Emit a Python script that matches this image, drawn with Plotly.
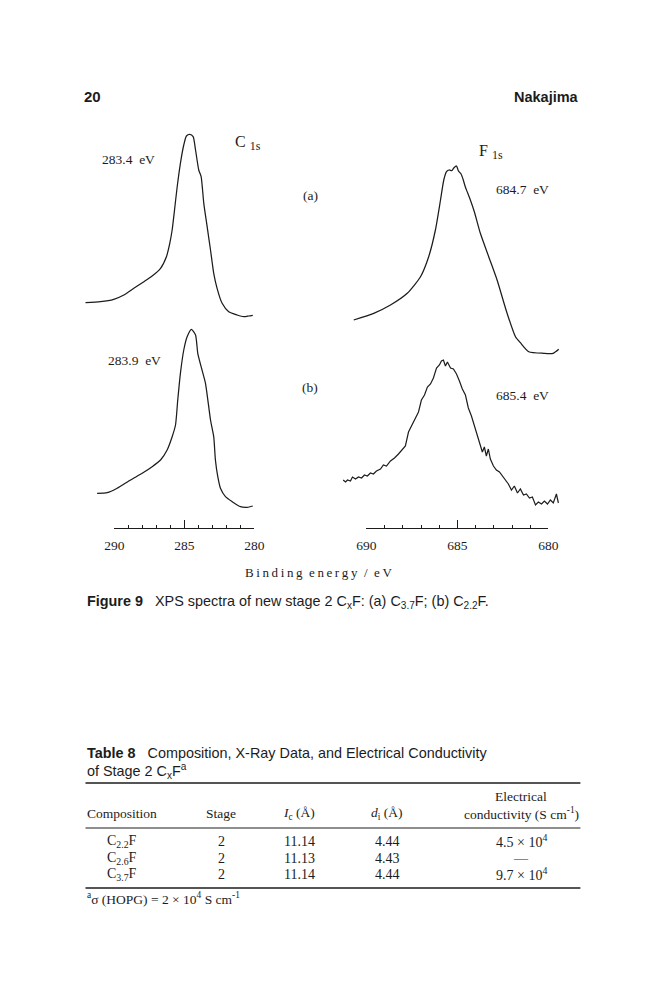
import plotly.graph_objects as go

W, H = 663, 1000
SERIF = "Liberation Serif"
SANS = "Liberation Sans"
INK = "#1c1c1c"

# C 1s spectra: binding energy (eV) and intensity (arb. units)
c1s_a_ev = [292.07, 291.0, 290.05, 289.33, 288.62, 287.9, 287.31, 286.71, 286.29, 286.05,
            285.88, 285.71, 285.52, 285.29, 285.05, 284.86, 284.62, 284.38, 284.21, 283.98,
            283.81, 283.62, 283.38, 283.14, 282.91, 282.67, 282.31, 281.84, 281.24, 280.76,
            280.41, 280.12]
c1s_a_int = [17.3, 18.3, 20.7, 25, 31.7, 38.3, 44, 51.7, 63.3, 76.7,
             90, 110, 133.3, 156.7, 175, 184, 185.7, 183.3, 170, 150,
             143.3, 116.7, 93.3, 70, 46.7, 31.7, 16.7, 8.3, 5, 3.3,
             4, 4.7]

c1s_b_ev = [291.24, 290.52, 289.81, 288.86, 288.02, 287.31, 286.71, 286.24, 285.88, 285.64,
            285.48, 285.29, 285.05, 284.81, 284.5, 284.21, 284.05, 283.81, 283.5, 283.14,
            282.91, 282.79, 282.62, 282.43, 282.07, 281.59, 281.0, 280.52, 280.12]
c1s_b_int = [16.7, 17.3, 21.7, 30, 36.7, 43.3, 50, 60, 73.3, 85,
             110, 136.7, 160, 173.3, 180.7, 175, 156.7, 143.3, 126.7, 90,
             73.3, 50, 33.3, 21.7, 13.3, 8.3, 3.3, 2.7, 4]

# F 1s spectra
f1s_a_ev = [690.70, 689.60, 688.68, 687.76, 687.03, 686.58, 686.21, 685.93, 685.75, 685.60,
            685.46, 685.31, 685.20, 685.05, 684.95, 684.80, 684.69, 684.56, 684.43, 684.29,
            684.07, 683.74, 683.28, 682.82, 682.27, 681.81, 681.54, 681.08, 680.26, 679.74,
            679.43]
f1s_a_int = [40, 46.7, 55, 66.7, 83.3, 103.3, 130, 160, 180, 188.3,
             190, 189.3, 192, 194, 189.3, 186, 180.7, 172.7, 166.7, 160,
             148.3, 126.7, 103.3, 80, 46.7, 23.3, 17.3, 8.3, 6.7, 6.7,
             10.7]

f1s_b_ev = [691.28, 691.15, 691.04, 690.88, 690.77, 690.60, 690.44, 690.27, 690.11, 689.95,
            689.78, 689.62, 689.45, 689.23, 689.07, 688.90, 688.68, 688.46, 688.24, 688.02,
            687.86, 687.69, 687.53, 687.31, 687.14, 686.98, 686.81, 686.65, 686.48, 686.32,
            686.15, 685.99, 685.88, 685.77, 685.66, 685.55, 685.38, 685.22, 685.05, 684.89,
            684.73, 684.56, 684.40, 684.23, 684.07, 683.90, 683.74, 683.63, 683.52, 683.41,
            683.30, 683.19, 683.02, 682.86, 682.69, 682.53, 682.36, 682.20, 682.03, 681.87,
            681.70, 681.54, 681.37, 681.21, 681.04, 680.88, 680.71, 680.55, 680.38, 680.22,
            680.05, 679.89, 679.73, 679.56, 679.45]
f1s_b_int = [35, 33, 35, 34, 38, 36, 38, 37, 40, 39,
             42, 41, 44, 46, 50, 49, 54, 57, 61, 66,
             69, 83, 89, 96, 103, 115, 120, 128, 131, 137,
             147, 150, 154, 155, 149, 153, 147, 146, 141, 134,
             126, 120, 107, 99, 89, 79, 69, 63, 68, 59,
             66, 56, 49, 45, 43, 39, 35, 31, 25, 29,
             22, 26, 20, 21, 17, 18, 10, 13, 11, 14,
             11, 15, 12, 21, 12]

# Table 8 data
table_compositions = ["C<sub>2.2</sub>F", "C<sub>2.6</sub>F", "C<sub>3.7</sub>F"]
table_stages = [2, 2, 2]
table_ic = [11.14, 11.13, 11.14]
table_di = [4.44, 4.43, 4.44]
table_sigma = [4.5, None, 9.7]
table_sigma_exp = 4

# page position -> paper fraction (page is drawn a little offset in the viewer)
X0, XS, Y0 = 17.5, 0.97, 8


def px(x):
    return (x - X0) / (XS * W)


def py(y):
    return 1 - (y - Y0) / H


def ydom(top, bottom):
    return [py(bottom), py(top)]


fig = go.Figure()
smooth = dict(color=INK, width=1.25, shape="spline", smoothing=0.6)
raw = dict(color=INK, width=1.2)
fig.add_trace(go.Scatter(x=c1s_a_ev, y=c1s_a_int, mode="lines", line=smooth, xaxis="x", yaxis="y"))
fig.add_trace(go.Scatter(x=c1s_b_ev, y=c1s_b_int, mode="lines", line=smooth, xaxis="x", yaxis="y2"))
fig.add_trace(go.Scatter(x=f1s_a_ev, y=f1s_a_int, mode="lines", line=smooth, xaxis="x2", yaxis="y3"))
fig.add_trace(go.Scatter(x=f1s_b_ev, y=f1s_b_int, mode="lines", line=raw, xaxis="x2", yaxis="y4"))
# empty traces that carry the two energy scales
fig.add_trace(go.Scatter(x=[], y=[], xaxis="x3", yaxis="y5"))
fig.add_trace(go.Scatter(x=[], y=[], xaxis="x4", yaxis="y6"))

hidden = dict(visible=False, showgrid=False, zeroline=False, fixedrange=True)
scale = dict(
    showline=True, linecolor=INK, linewidth=1, ticks="inside", ticklen=8, tickwidth=1,
    tickcolor=INK, tickmode="linear", dtick=5, showgrid=False, zeroline=False,
    ticklabelstandoff=5, tickfont=dict(family=SERIF, size=13.5, color=INK),
    minor=dict(dtick=1, ticks="inside", ticklen=3, tickwidth=1, tickcolor=INK, showgrid=False),
)

fig.update_layout(
    width=W, height=H,
    margin=dict(l=0, r=0, t=0, b=0),
    paper_bgcolor="white", plot_bgcolor="rgba(0,0,0,0)",
    showlegend=False,
    xaxis=dict(domain=[px(79), px(261)], range=[292.5, 279.5], anchor="y", **hidden),
    xaxis2=dict(domain=[px(340), px(566)], range=[691.43, 679.01], anchor="y3", **hidden),
    xaxis3=dict(domain=[px(114), px(254)], range=[290, 280], tick0=280, anchor="y5", **scale),
    xaxis4=dict(domain=[px(366), px(548)], range=[690, 680], tick0=680, anchor="y6", **scale),
    yaxis=dict(domain=ydom(130, 320), range=[0, 190], anchor="x", **hidden),
    yaxis2=dict(domain=ydom(325, 510), range=[0, 185], anchor="x", **hidden),
    yaxis3=dict(domain=ydom(160, 360), range=[0, 200], anchor="x2", **hidden),
    yaxis4=dict(domain=ydom(355, 515), range=[0, 160], anchor="x2", **hidden),
    yaxis5=dict(domain=ydom(520, 528), range=[0, 1], anchor="x3", **hidden),
    yaxis6=dict(domain=ydom(520, 528), range=[0, 1], anchor="x4", **hidden),
)


def note(text, x, y, size=13.5, family=SERIF, xanchor="center"):
    fig.add_annotation(text=text, x=px(x), y=py(y), xref="paper", yref="paper",
                       xanchor=xanchor, yanchor="middle", showarrow=False,
                       font=dict(family=family, size=size, color=INK))


# page header
note("<b>20</b>", 92, 97, 15, SANS)
note("<b>Nakajima</b>", 581, 97, 14.5, SANS, "right")

# spectrum labels
sub = "<sub><span style='font-size:12px'>1s</span></sub>"
note("C " + sub, 248, 143, 16)
note("283.4\u00a0 eV", 128, 159)
note("(a)", 310, 196)
note("283.9\u00a0 eV", 134, 360)
note("(b)", 310, 387)
note("F " + sub, 491, 152, 16)
note("684.7\u00a0 eV", 522, 190)
note("685.4\u00a0 eV", 522, 395)
note("\u2009".join("Binding") + "\u00a0\u00a0" + "\u2009".join("energy") + "\u00a0\u00a0/\u00a0\u00a0e\u2009V",
     318, 572, 13)

# caption
note("<b>Figure 9</b>\u00a0\u00a0\u00a0XPS spectra of new stage 2 C<sub>x</sub>F: (a) C<sub>3.7</sub>F; (b) C<sub>2.2</sub>F.",
     85, 602, 14.4, SANS, "left")

# table title
note("<b>Table 8</b>\u00a0\u00a0\u00a0Composition, X-Ray Data, and Electrical Conductivity", 85, 753, 14.4, SANS, "left")
note("of Stage 2 C<sub>x</sub>F<sup>a</sup>", 85, 771, 14.4, SANS, "left")

# table rules
for y, w in [(783, 1.6), (828, 1.2), (888, 1.6)]:
    fig.add_shape(type="line", xref="paper", yref="paper", x0=px(85), x1=px(580),
                  y0=py(y), y1=py(y), line=dict(color=INK, width=w))

col_x = [122, 221, 299, 387, 521]
note("Composition", col_x[0], 813)
note("Stage", col_x[1], 813)
note("<i>I</i><sub>c</sub> (Å)", col_x[2], 813)
note("<i>d</i><sub>i</sub> (Å)", col_x[3], 813)
note("Electrical", col_x[4], 796)
note("conductivity (S cm<sup>-1</sup>)", col_x[4], 813)

row_y = [841, 858, 874]
for i, y in enumerate(row_y):
    note(table_compositions[i], col_x[0], y, 14)
    note(str(table_stages[i]), col_x[1], y, 14)
    note(f"{table_ic[i]:.2f}", col_x[2], y, 14)
    note(f"{table_di[i]:.2f}", col_x[3], y, 14)
    s = table_sigma[i]
    note("\u2014" if s is None else f"{s} × 10<sup>{table_sigma_exp}</sup>", col_x[4], y, 14)

note("<sup>a</sup>σ (HOPG) = 2 × 10<sup>4</sup> S cm<sup>-1</sup>", 85, 898, 13.5, SERIF, "left")

fig.write_html("out.html")
